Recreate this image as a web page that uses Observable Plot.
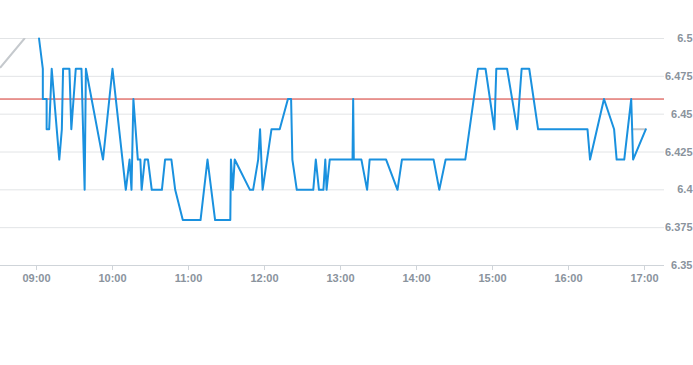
<!DOCTYPE html>
<html><head><meta charset="utf-8">
<script src="https://cdn.jsdelivr.net/npm/d3@7"></script>
<script src="https://cdn.jsdelivr.net/npm/@observablehq/plot@0.6"></script>
<style>body{margin:0;background:#fff;}</style>
</head><body><div id="chart"></div>
<script>
const times = ["09:02:00","09:05:00","09:05:00","09:08:00","09:08:00","09:10:00","09:12:00","09:18:00","09:20:00","09:21:00",
"09:26:00","09:27:30","09:31:00","09:35:30","09:38:00","09:39:00","09:52:30","10:00:00","10:10:30","10:13:30",
"10:15:00","10:16:30","10:20:00","10:22:00","10:23:00","10:25:30","10:28:00","10:31:00","10:39:00","10:41:30",
"10:46:30","10:49:30","10:55:30","11:09:30","11:15:00","11:21:00","11:33:00","11:33:30","11:35:00","11:36:30",
"11:48:30","11:51:00","11:55:00","11:56:30","11:58:30","12:05:30","12:12:00","12:18:30","12:21:00","12:22:00",
"12:25:30","12:38:30","12:40:30","12:43:00","12:46:30","12:48:00","12:49:00","12:51:30","13:09:30","13:10:00",
"13:10:30","13:16:30","13:21:00","13:23:00","13:36:00","13:45:00","13:48:30","14:13:30","14:18:00","14:23:00",
"14:38:30","14:48:30","14:54:30","15:01:30","15:03:00","15:11:30","15:19:30","15:23:00","15:29:00","15:36:00",
"16:15:00","16:17:00","16:28:00","16:36:00","16:38:00","16:44:00","16:49:30","16:51:00","17:01:00"];
const prices = [6.50,6.48,6.46,6.46,6.44,6.44,6.48,6.42,6.44,6.48,
6.48,6.44,6.48,6.48,6.40,6.48,6.42,6.48,6.40,6.42,
6.40,6.46,6.42,6.42,6.40,6.42,6.42,6.40,6.40,6.42,
6.42,6.40,6.38,6.38,6.42,6.38,6.38,6.42,6.40,6.42,
6.40,6.40,6.42,6.44,6.40,6.44,6.44,6.46,6.46,6.42,
6.40,6.40,6.42,6.40,6.40,6.42,6.40,6.42,6.42,6.46,
6.42,6.42,6.40,6.42,6.42,6.40,6.42,6.42,6.40,6.42,
6.42,6.48,6.48,6.44,6.48,6.48,6.44,6.48,6.48,6.44,
6.44,6.42,6.46,6.44,6.42,6.42,6.46,6.42,6.44];
const grayTimes = ["08:31:35","08:50:30","08:56:00","12:00:00","16:50:00","17:01:00"];
const grayPrices = [6.481,6.50,6.515,null,6.44,6.44];
const refPrice = 6.46;
const yTicks = [6.35,6.375,6.4,6.425,6.45,6.475,6.5];
const xTickLabels = ["09:00","10:00","11:00","12:00","13:00","14:00","15:00","16:00","17:00"];
const xDomain = ["08:31:35","17:15:47"];

const parse = d3.utcParse("%H:%M:%S");
const main = times.map((t,i)=>({t:parse(t), p:prices[i]}));
const gray = grayTimes.map((t,i)=>({t:parse(t), p:grayPrices[i]}));
const xTicks = xTickLabels.map(s=>parse(s+":00"));
const labelColor = "#8a939d";

const chart = Plot.plot({
  width:693, height:365,
  marginLeft:0, marginRight:29, marginTop:38, marginBottom:100,
  x:{type:"utc", domain:xDomain.map(parse), label:null},
  y:{domain:[6.35,6.5], label:null},
  style:{fontFamily:"'Liberation Sans', Arial, sans-serif", fontSize:"11px", background:"#fff"},
  marks:[
    Plot.gridY(yTicks,{stroke:"#e2e4e6", strokeOpacity:1}),
    Plot.ruleY([6.35],{stroke:"#cfd4d9"}),
    Plot.axisX(xTicks,{label:null, tickSize:5, tickPadding:4, stroke:"#cfd4d9", fill:labelColor, fontWeight:"bold", tickFormat:d3.utcFormat("%H:%M")}),
    Plot.axisY(yTicks,{label:null, anchor:"right", tickSize:0, tickPadding:28, textAnchor:"end", fill:labelColor, fontWeight:"bold", tickFormat:d=>String(+d.toFixed(3))}),
    Plot.ruleY([refPrice],{stroke:"#d3312a", strokeWidth:1}),
    Plot.line(gray,{x:"t", y:"p", stroke:"#c5c9cd", strokeWidth:2, clip:true}),
    Plot.line(main,{x:"t", y:"p", stroke:"#1a91df", strokeWidth:2})
  ]
});
document.getElementById("chart").appendChild(chart);
</script>
</body></html>
